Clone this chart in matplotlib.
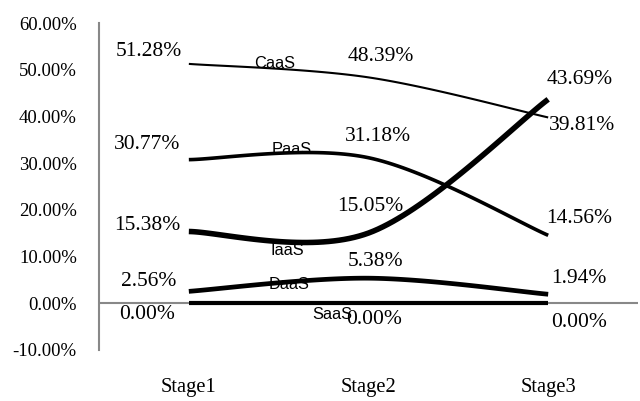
import numpy as np
import matplotlib
matplotlib.use('Agg')
import matplotlib.pyplot as plt

stages = ['Stage1', 'Stage2', 'Stage3']
names = ['CaaS', 'PaaS', 'IaaS', 'DaaS', 'SaaS']
caas = [51.28, 48.39, 39.81]
paas = [30.77, 31.18, 14.56]
iaas = [15.38, 15.05, 43.69]
daas = [2.56, 5.38, 1.94]
saas = [0.00, 0.00, 0.00]
series = [caas, paas, iaas, daas, saas]
widths = [1.5, 2.6, 4.0, 3.4, 3.0]

# label offsets (points) for each value label, per series and stage
val_off = [[(-29, 9), (9, 15), (24, -6)],
           [(-30, 11), (7, 15), (22, 12)],
           [(-30, 4), (1, 19), (23, 14)],
           [(-29, 7), (5, 12), (22, 11)],
           [(-30, -8), (4, -12), (22, -14)]]
name_off = [(0, 4), (0, 2), (0, -6), (0, -2), (0, -8)]
name_x = [0.48, 0.57, 0.55, 0.56, 0.80]


def smooth(y, n=40):
    # excel-like bezier smoothing
    pts = np.array([[i, v] for i, v in enumerate(y)], dtype=float)
    ext = np.vstack([pts[0], pts, pts[-1]])
    xs, ys = [], []
    t = np.linspace(0, 1, n)
    for i in range(len(pts) - 1):
        p0 = ext[i + 1]
        p3 = ext[i + 2]
        p1 = p0 + (ext[i + 2] - ext[i]) / 6
        p2 = p3 - (ext[i + 3] - ext[i + 1]) / 6
        b = ((1 - t) ** 3)[:, None] * p0 + (3 * (1 - t) ** 2 * t)[:, None] * p1 \
            + (3 * (1 - t) * t ** 2)[:, None] * p2 + (t ** 3)[:, None] * p3
        xs.extend(b[:, 0])
        ys.extend(b[:, 1])
    return np.array(xs), np.array(ys)


fig = plt.figure(figsize=(6.4, 4.01), dpi=100)
ax = fig.add_axes([0.1547, 0.1272, 0.8422, 0.815])

serif = 'Liberation Serif'
sans = 'Liberation Sans'

for k, (vals, lw) in enumerate(zip(series, widths)):
    sx, sy = smooth(vals)
    ax.plot(sx, sy, color='black', lw=lw, solid_capstyle='butt', zorder=3)
    for j, v in enumerate(vals):
        ax.annotate('%.2f%%' % v, (j, v), xytext=val_off[k][j], textcoords='offset points',
                    ha='center', va='center', fontsize=15.5, family=serif, zorder=4)
    xi = name_x[k]
    yi = np.interp(xi, sx, sy)
    ax.annotate(names[k], (xi, yi), xytext=name_off[k], textcoords='offset points',
                ha='center', va='center', fontsize=11.8, family=sans, zorder=4)

ax.set_xlim(-0.5, 2.5)
ax.set_ylim(-10, 60)
ax.set_yticks(np.arange(-10, 61, 10))
ax.set_yticklabels(['%.2f%%' % v for v in np.arange(-10, 61, 10)], family=serif, fontsize=13.5)
ax.set_xticks(range(3))
ax.set_xticklabels(stages, family=serif, fontsize=14.8)
ax.tick_params(axis='both', length=0)
ax.tick_params(axis='y', pad=16)
ax.tick_params(axis='x', pad=20)

for s in ['top', 'right', 'bottom']:
    ax.spines[s].set_visible(False)
ax.spines['left'].set_color('#888888')
ax.spines['left'].set_linewidth(1.5)
ax.axhline(0, color='#888888', lw=1.5, zorder=2)

fig.savefig('out.png', dpi=100)
